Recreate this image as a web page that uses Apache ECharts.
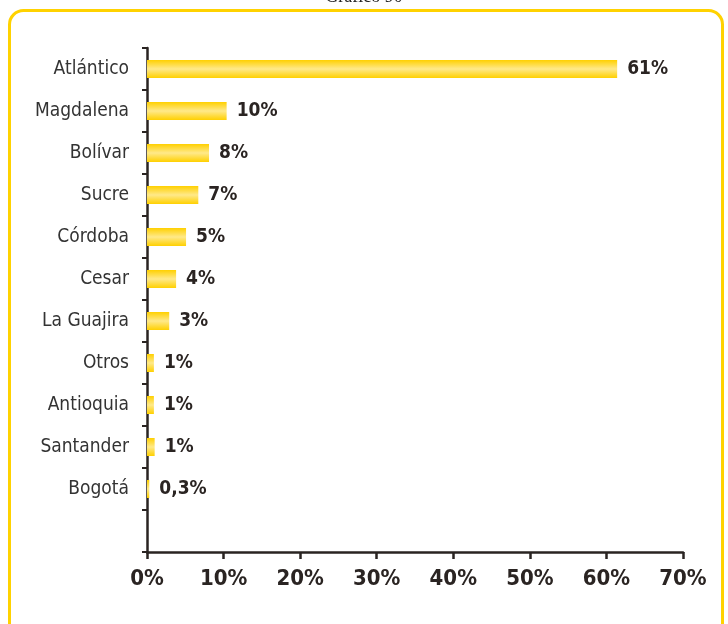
<!DOCTYPE html>
<html><head><meta charset="utf-8">
<script src="https://cdn.jsdelivr.net/npm/echarts@6/dist/echarts.min.js"></script>
<style>html,body{margin:0;padding:0;background:#fff}#c{width:728px;height:624px}</style>
</head><body><div id="c"></div>
<script>
const categories = ["Atlántico","Magdalena","Bolívar","Sucre","Córdoba","Cesar","La Guajira","Otros","Antioquia","Santander","Bogotá"];
const values = [61.4, 10.4, 8.1, 6.7, 5.1, 3.8, 2.9, 0.9, 0.9, 1.0, 0.3];
const valueLabels = ["61%","10%","8%","7%","5%","4%","3%","1%","1%","1%","0,3%"];
const xTicks = [0,10,20,30,40,50,60,70];

const condensed = '"Liberation Sans Narrow","DejaVu Sans Condensed","Roboto Condensed",sans-serif';
const dark = '#2a2422';
const chart = echarts.init(document.getElementById('c'), null, {renderer:'canvas'});
const cats = categories.concat(['']);
const vals = values.concat([null]);
chart.setOption({
  animation:false,
  grid:{left:147,right:45,top:48,bottom:72,containLabel:false},
  graphic:[
    {type:'rect',shape:{x:9.5,y:10.5,width:713,height:660,r:14},style:{fill:'none',stroke:'#FFD200',lineWidth:3}},
    {type:'text',left:'center',top:-12,style:{text:'Gráfico 90',font:'18px "Liberation Serif","DejaVu Serif",serif',fill:'#222'}}
  ],
  xAxis:{type:'value',min:0,max:70,interval:10,
    axisLine:{show:true,lineStyle:{color:dark,width:2.5}},
    axisTick:{show:true,length:7,lineStyle:{color:dark,width:2.5}},
    splitLine:{show:false},
    axisLabel:{margin:16,formatter:v=>xTicks.includes(v)?v+'%':'',color:dark,fontFamily:condensed,fontWeight:'bold',fontSize:22}
  },
  yAxis:{type:'category',data:cats,inverse:true,
    axisLine:{show:true,lineStyle:{color:dark,width:2.5}},
    axisTick:{show:true,length:5,inside:false,lineStyle:{color:dark,width:2}},
    axisLabel:{margin:18,color:'#333',fontFamily:condensed,fontSize:19}
  },
  series:[{type:'bar',data:vals,barWidth:18,
    itemStyle:{color:new echarts.graphic.LinearGradient(0,0,0,1,[
      {offset:0,color:'#FFD000'},{offset:0.5,color:'#FFE98A'},{offset:1,color:'#FFD000'}])},
    label:{show:true,position:'right',distance:10,formatter:p=>valueLabels[p.dataIndex]||'',
      color:dark,fontFamily:condensed,fontWeight:'bold',fontSize:19}
  }]
});
</script></body></html>
